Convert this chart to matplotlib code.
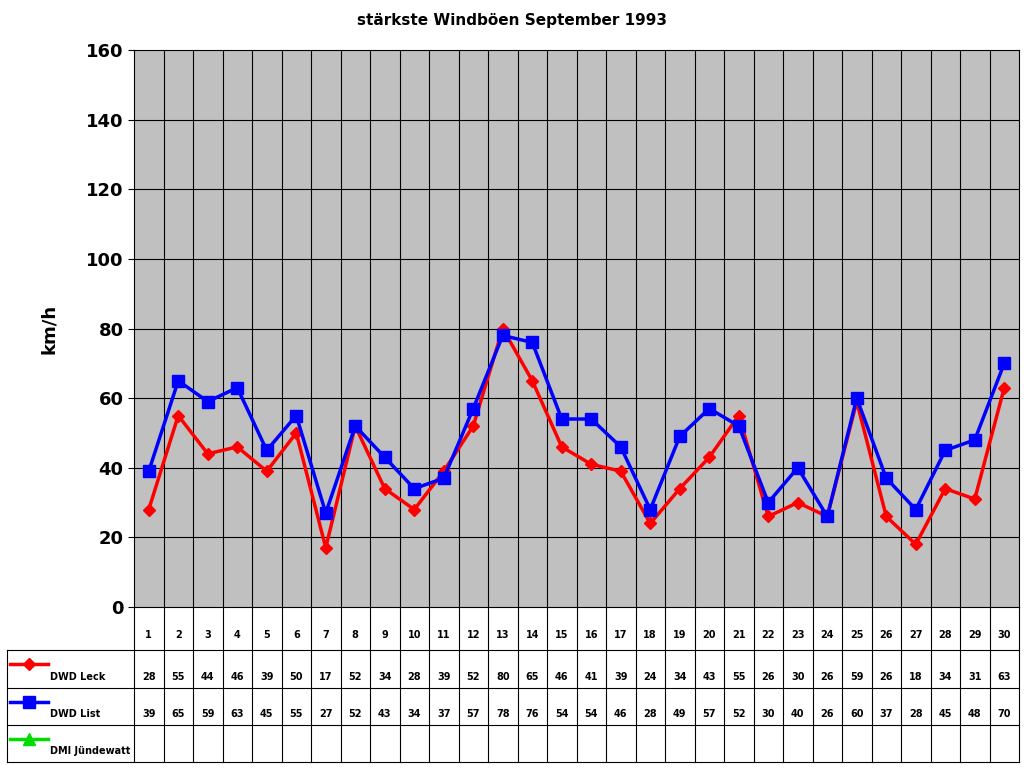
import matplotlib
matplotlib.use("Agg")
import matplotlib.pyplot as plt
import numpy as np

days = list(range(1, 31))
leck = [28,55,44,46,39,50,17,52,34,28,39,52,80,65,46,41,39,24,34,43,55,26,30,26,59,26,18,34,31,63]
lst = [39,65,59,63,45,55,27,52,43,34,37,57,78,76,54,54,46,28,49,57,52,30,40,26,60,37,28,45,48,70]
series = [("DWD Leck", leck, "red", "D", 6), ("DWD List", lst, "blue", "s", 8), ("DMI Jündewatt", None, "#00dd00", "^", 8)]

W, H = 1024, 768
fig = plt.figure(figsize=(W/100, H/100), dpi=100)
L, R, T, B = 134/W, 1019/W, 1-50/H, 1-607/H
ax = fig.add_axes([L, B, R-L, T-B])
ax.set_facecolor("#c0c0c0")
n = len(days)
x = np.arange(n) + 0.5
ax.set_xlim(0, n); ax.set_ylim(0, 160)
for i in range(1, n):
    ax.axvline(i, color="black", lw=0.8)
for yv in range(20, 160, 20):
    ax.axhline(yv, color="black", lw=0.8)
for name, vals, c, m, ms in series:
    if vals is not None:
        ax.plot(x, vals, color=c, lw=2.5, marker=m, ms=ms, zorder=3)
ax.set_xticks([])
ax.set_yticks(range(0, 161, 20))
ax.tick_params(axis="y", labelsize=13, length=4)
for t in ax.get_yticklabels(): t.set_fontweight("bold")
ax.set_ylabel("km/h", fontsize=13, fontweight="bold", labelpad=20)
fig.text(0.5, 1-20/H, "stärkste Windböen September 1993", ha="center", va="center", fontsize=11, fontweight="bold")

# table
tl = 7/W
tab = fig.add_axes([tl, 1-762/H, R-tl, (762-607)/H])
tab.set_xlim(-127/((R-L)*W/n), n)
rows_y = [607, 650, 688, 725, 762]
tab.set_ylim(762, 607)
tab.axis("off")
x0 = tab.get_xlim()[0]
for yy in rows_y[1:]:
    tab.plot([x0, n], [yy, yy], color="black", lw=0.8, clip_on=False)
tab.plot([x0, x0], [650, 762], color="black", lw=0.8, clip_on=False)
for i in range(0, n+1):
    tab.plot([i, i], [607, 762], color="black", lw=0.8, clip_on=False)
for i, d in enumerate(days):
    tab.text(i+0.5, 635, str(d), ha="center", va="center", fontsize=7, fontweight="bold")
for r, (name, vals, c, m, ms) in enumerate(series):
    yb = rows_y[r+1]; ye = rows_y[r+2]
    ym = (yb+ye)/2
    tab.plot([x0+0.1, x0+1.4], [ym-5, ym-5], color=c, lw=2.5, marker=m, ms=ms, markevery=[1], clip_on=False) if False else None
    tab.plot([x0+0.1, x0+1.4], [ym-5, ym-5], color=c, lw=2.5, clip_on=False)
    tab.plot([x0+0.75], [ym-5], color=c, marker=m, ms=ms, clip_on=False)
    tab.text(x0+1.45, ye-6, name, ha="left", va="bottom", fontsize=7, fontweight="bold")
    if vals is not None:
        for i, v in enumerate(vals):
            tab.text(i+0.5, ye-6, str(v), ha="center", va="bottom", fontsize=7, fontweight="bold")
fig.savefig("out.png", dpi=100)
